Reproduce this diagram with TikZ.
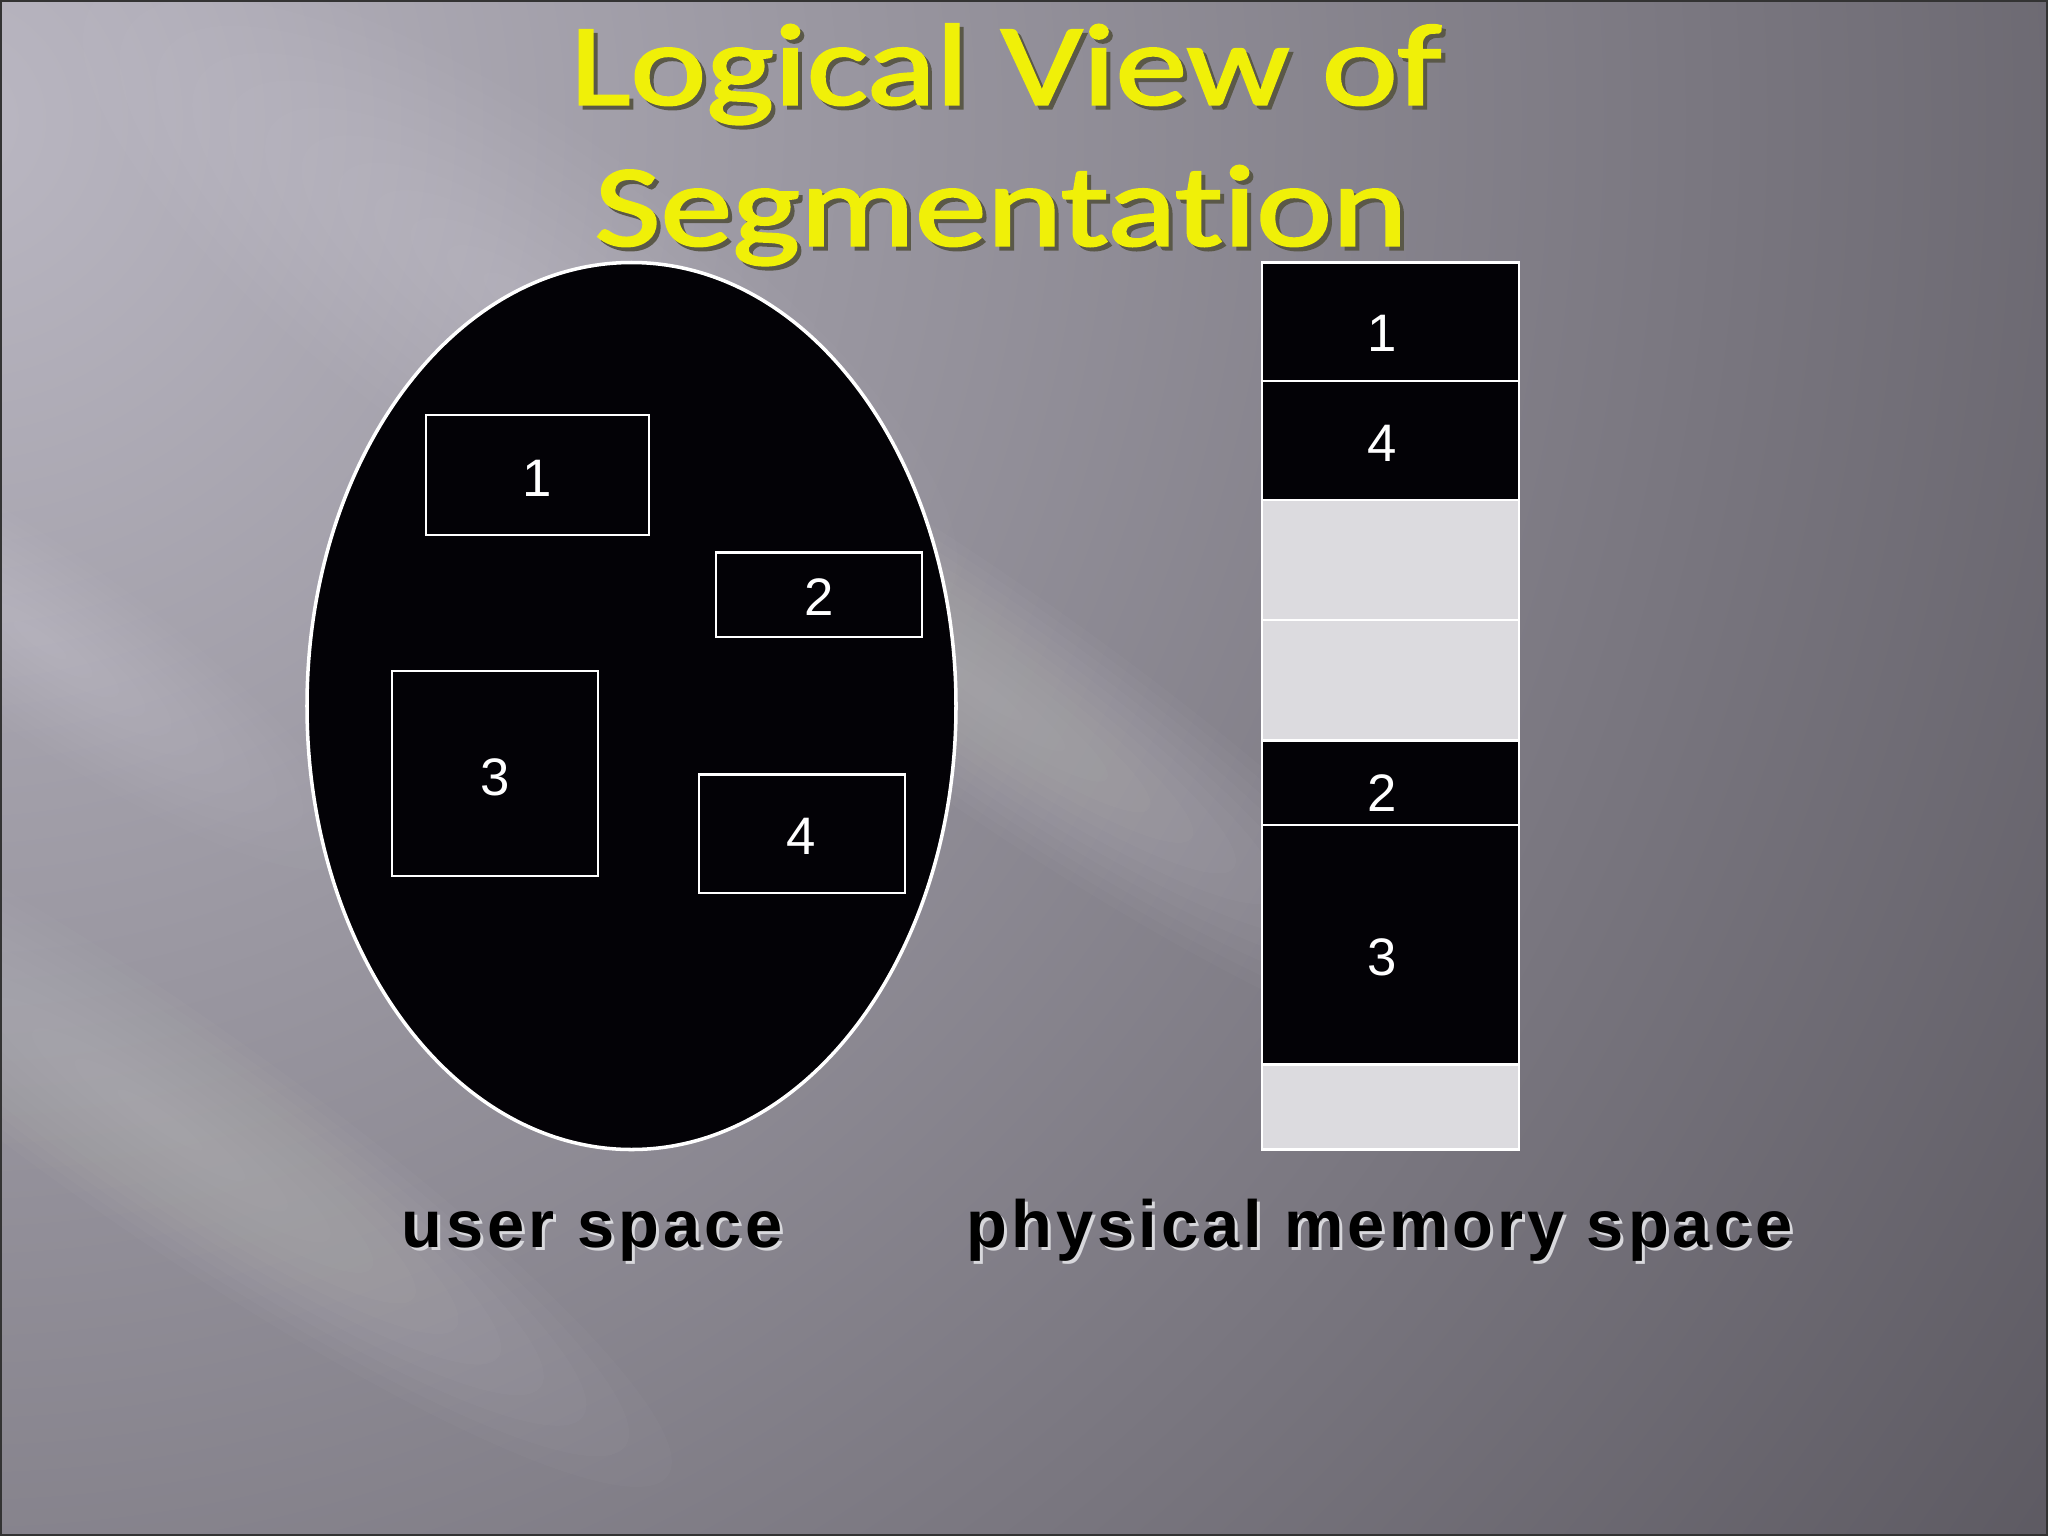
\documentclass[tikz,border=0pt]{standalone}
\usepackage{fontspec}
\setmainfont{Liberation Sans}
\newfontfamily\titlefont[Ligatures=NoCommon, FakeStretch=1.24, FakeBold=2]{Carlito}
\newfontfamily\capfont[LetterSpace=6]{Liberation Sans}
\definecolor{bgLight}{HTML}{BAB7C2}
\definecolor{bgDark}{HTML}{59565E}
\definecolor{segBlack}{HTML}{030206}
\definecolor{freeGray}{HTML}{DCDBDF}
\definecolor{titleYellow}{HTML}{F0F008}
\definecolor{titleShadow}{HTML}{5A5848}
\definecolor{labelShadow}{HTML}{D8D8DC}
% one text with its drop shadow, inside a single node
\newcommand{\shadowed}[3]{% colour, offset, text
  \makebox[0pt][l]{\kern#2\raisebox{-#2}{\textcolor{#1}{#3}}}#3}
\newcommand{\streakband}[5]{% cx, cy, half-length, half-width, opacity per layer
  \foreach \k in {1,...,12}{
    \fill[white, opacity=#5] (#1,#2) ellipse[x radius={#3*\k/12}, y radius={#4*\k/12}, rotate=-35];
  }}
\tikzset{
  seg/.style={draw=white, line width=0.6pt, fill=segBlack, inner sep=0pt, outer sep=0pt, minimum width=2.57cm},
  free/.style={draw=white, line width=0.6pt, fill=freeGray, inner sep=0pt, outer sep=0pt, minimum width=2.57cm},
  ubox/.style={draw=white, line width=0.8pt, fill=segBlack, inner sep=0pt, outer sep=0pt},
  digit/.style={text=white, font=\fontsize{15}{15}\selectfont, inner sep=0pt},
  ttl/.style={text=titleYellow, font=\titlefont\fontsize{33}{40}\selectfont, anchor=base, inner sep=0pt},
  lbl/.style={text=black, font=\capfont\bfseries\fontsize{19}{19}\selectfont, anchor=base, inner sep=0pt}
}
\begin{document}
\begin{tikzpicture}[x=0.01cm,y=-0.01cm]
\useasboundingbox (0,0) rectangle (2048,1536);
% background
\begin{scope}
\clip (0,0) rectangle (2048,1536);
\fill[bgDark] (0,0) rectangle (2048,1536);
\shade[inner color=bgLight, outer color=bgDark] (-50,120) circle[radius=2650];
\streakband{980}{690}{620}{110}{0.018}
\streakband{520}{300}{520}{170}{0.016}
\streakband{160}{1120}{620}{110}{0.02}
\streakband{40}{640}{380}{90}{0.018}
\end{scope}
\draw[black!80, line width=1.2pt] (0,0) rectangle (2048,1536);

% title
\node[ttl] (t1) at (1006,104.5) {\shadowed{titleShadow}{0.4mm}{Logical View of}};
\node[ttl] (t2) at (1001,245.5) {\shadowed{titleShadow}{0.4mm}{Segmentation}};

% user space ellipse
\filldraw[fill=segBlack, draw=white, line width=1pt] (631.5,706) ellipse[x radius=324.5, y radius=443.5];
\node[ubox, minimum width=2.23cm, minimum height=1.20cm] (u1) at (537.5,475) {};
\node[ubox, minimum width=2.06cm, minimum height=0.845cm] (u2) at (819,594.75) {};
\node[ubox, minimum width=2.06cm, minimum height=2.05cm] (u3) at (495,773.5) {};
\node[ubox, minimum width=2.06cm, minimum height=1.185cm] (u4) at (802,833.75) {};
\node[digit] (u1l) at (537,478) {1};
\node[digit] (u2l) at (819,597) {2};
\node[digit] (u3l) at (495,777) {3};
\node[digit] (u4l) at (801,836) {4};

% physical memory column
\node[seg, minimum height=1.19cm] (m1) at (1390.5,322) {};
\node[seg, minimum height=1.186cm] (m4) at (1390.5,440.7) {};
\node[free, minimum height=1.204cm] (f1) at (1390.5,560.2) {};
\node[free, minimum height=1.20cm] (f2) at (1390.5,680.45) {};
\node[seg, minimum height=0.85cm] (m2) at (1390.5,783) {};
\node[seg, minimum height=2.39cm] (m3) at (1390.5,945) {};
\node[free, minimum height=0.85cm] (f3) at (1390.5,1107) {};
\node[digit] (m1l) at (1382,333) {1};
\node[digit] (m4l) at (1382,443) {4};
\node[digit] (m2l) at (1382,793) {2};
\node[digit] (m3l) at (1382,957) {3};

% captions
\node[lbl] (c1) at (592,1247) {\shadowed{labelShadow}{0.3mm}{user space}};
\node[lbl] (c2) at (1379.5,1247) {\shadowed{labelShadow}{0.3mm}{physical memory space}};
\end{tikzpicture}
\end{document}
